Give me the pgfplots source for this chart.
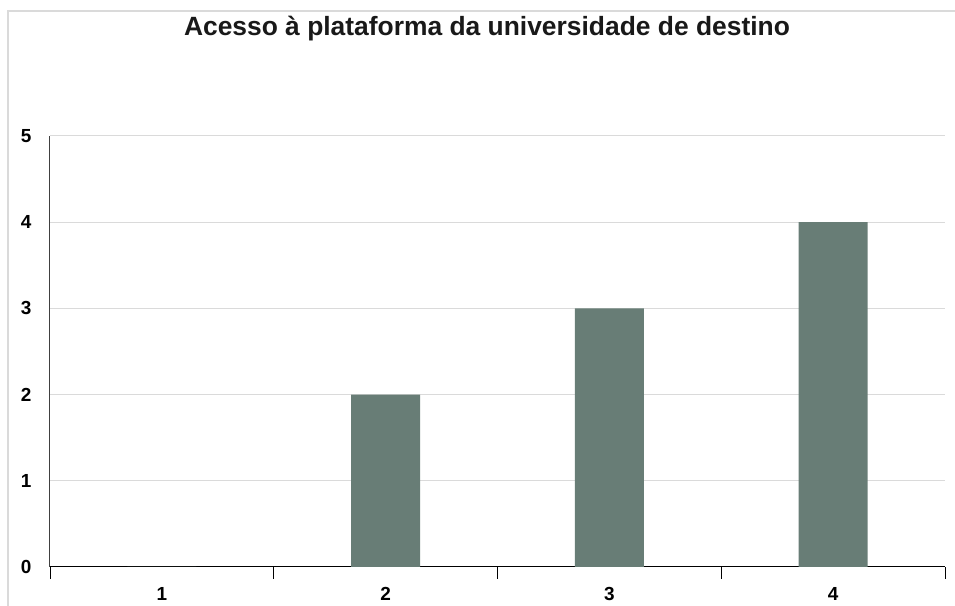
\documentclass[border=0pt]{standalone}
\usepackage{pgfplots}
\pgfplotsset{compat=1.18}
\usepackage{fontspec}
\setmainfont{Liberation Sans}
\definecolor{barc}{HTML}{687D76}
\definecolor{gridc}{HTML}{DADADA}
\newcommand{\tfont}{\fontsize{19}{21}\selectfont\bfseries}
\begin{document}
\begin{tikzpicture}[x=1bp,y=1bp]
\useasboundingbox (-50,-39) rectangle (905,567);
\draw[gridc, line width=1.2bp] (-42,-39) -- (-42,556) -- (905,556);
\begin{axis}[
  at={(0,0)}, anchor=origin,
  scale only axis, width=895bp, height=431bp,
  xmin=0.5, xmax=4.5, ymin=0, ymax=5,
  axis x line*=bottom, axis y line*=left,
  axis line style={line width=1bp, black!75},
  x axis line style={black},
  xtick={0.5,1.5,2.5,3.5,4.5}, xticklabels={1,2,3,4},
  x tick label as interval,
  xtick style={draw=black, line width=0.8bp},
  xtick align=center, major tick length=12bp,
  ytick={0,1,2,3,4,5},
  ytick style={draw=none},
  ymajorgrids, grid style={gridc, line width=1bp},
  yticklabel style={font=\tfont, xshift=-15bp},
  xticklabel style={font=\tfont, yshift=-5bp},
  /pgf/number format/assume math mode=true,
  ybar, bar width=69bp,
  clip=false,
]
\addplot[fill=barc, draw=none] coordinates {(1,0) (2,2) (3,3) (4,4)};
\end{axis}
\node[font=\fontsize{26.5}{30}\selectfont\bfseries, text=black!90] at (437,538) {Acesso à plataforma da universidade de destino};
\end{tikzpicture}
\end{document}
